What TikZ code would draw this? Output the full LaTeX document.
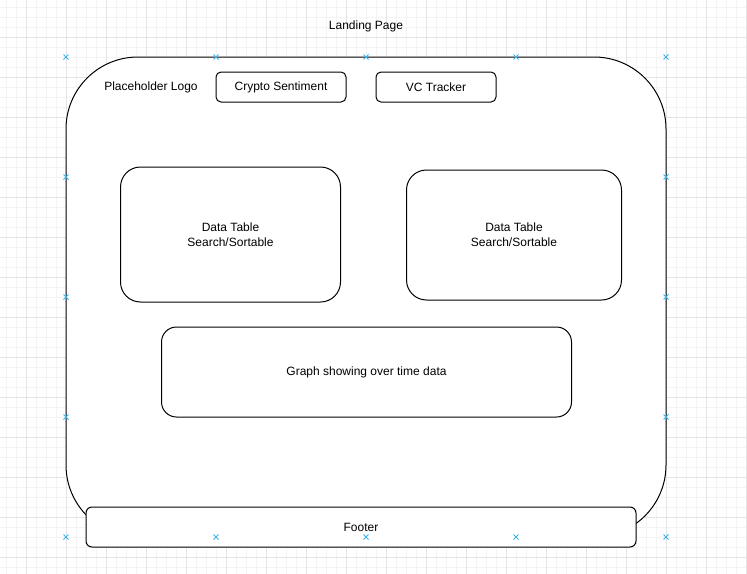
\documentclass[tikz,border=0pt]{standalone}
\usepackage{fontspec}
\setmainfont{Liberation Sans}
\usepackage{tikz}
\usetikzlibrary{positioning}

\definecolor{gridminor}{HTML}{F4F4F4}
\definecolor{gridmajor}{HTML}{E4E4E4}
\definecolor{handle}{HTML}{3BB4F0}

\begin{document}
\begin{tikzpicture}[x=1pt,y=-1pt,
    every node/.style={font=\fontsize{12}{15}\selectfont,align=center},
    box/.style={draw,fill=white,line width=1pt,inner sep=0pt,rounded corners=#1},
    box/.default=6pt]
    \useasboundingbox (0,0) rectangle (747,573);
    \clip (0,0) rectangle (747,573);

    % background grid
    \begin{scope}[shift={(6.5,7)}]
      \draw[gridminor,line width=1pt,step=10pt] (-10,-10) grid (750,580);
    \end{scope}
    \begin{scope}[shift={(26.5,37)}]
      \draw[gridmajor,line width=1pt,step=40pt] (-40,-40) grid (760,580);
    \end{scope}

    \node (title) at (366,26.5) {Landing Page};

    \node (page) at (366,297) [box=72pt,minimum width=600pt,minimum height=480pt] {};

    \node (logo) at (151,87) {Placeholder Logo};
    \node (crypto) at (281,87) [box=5pt,minimum width=130pt,minimum height=30pt] {Crypto Sentiment};
    \node (vc) at (436,87) [box=5pt,minimum width=120pt,minimum height=30pt] {VC Tracker};

    \node (table1) at (230.5,234.5) [box=20pt,minimum width=220pt,minimum height=135pt] {Data Table\\Search/Sortable};
    \node (table2) at (514,235) [box=20pt,minimum width=215pt,minimum height=130pt] {Data Table\\Search/Sortable};

    \node (graph) at (366.5,372) [box=15pt,minimum width=410pt,minimum height=90pt] {Graph showing over time data};

    \node (footer) at (361,527) [box,minimum width=550pt,minimum height=40pt] {Footer};

    % connection points of the page
    \foreach \hx/\hy in {66/57,216/57,366/57,516/57,666/57,
                         66/177,66/297,66/417,666/177,666/297,666/417,
                         66/537,216/537,366/537,516/537,666/537}
      \draw[handle,line width=1pt] (\hx-2.5,\hy-2.5) -- (\hx+2.5,\hy+2.5)
                                   (\hx-2.5,\hy+2.5) -- (\hx+2.5,\hy-2.5);
\end{tikzpicture}
\end{document}
